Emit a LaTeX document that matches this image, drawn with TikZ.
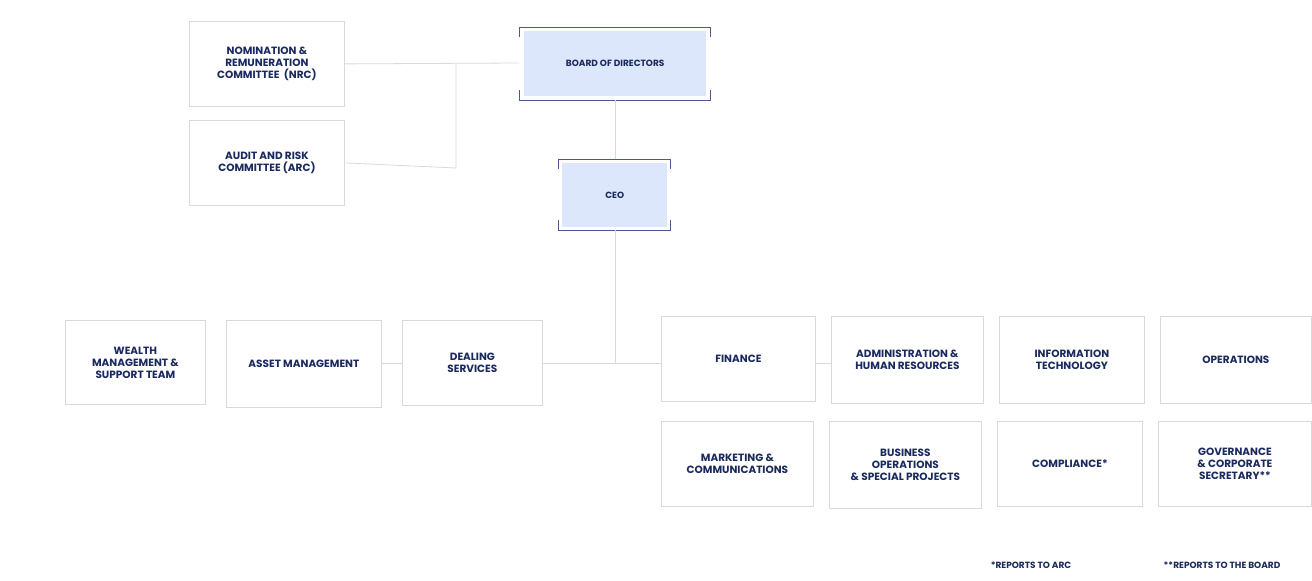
\documentclass[tikz,border=0pt]{standalone}
\usepackage{fontspec}
\setmainfont{Poppins}
\definecolor{navy}{HTML}{1B2A5E}
\definecolor{edge}{HTML}{D9D9D9}
\definecolor{fillb}{HTML}{DDE7FB}
\definecolor{brk}{HTML}{4A5A8A}
\begin{document}
\begin{tikzpicture}[x=1pt,y=-1pt,
  box/.style={draw=edge,line width=0.8pt,fill=white,text=navy,font=\fontsize{10.5}{12}\selectfont\bfseries,align=center,anchor=north west,inner sep=0pt},
  lead/.style={draw=edge,line width=0.8pt},
  brack/.style={draw=brk,line width=0.8pt},
  topbox/.style={fill=fillb,text=navy,font=\fontsize{9}{11}\selectfont\bfseries,align=center,anchor=north west,inner sep=0pt}]
\useasboundingbox (0,0) rectangle (1312,581);
\newcommand{\bx}[6]{\node[box,minimum width=#4-#2,minimum height=#5-#3] (#1) at (#2,#3) {#6};}
\bx{nrc}{189}{21}{344}{106}{NOMINATION \&\\REMUNERATION\\COMMITTEE\ \ (NRC)}
\bx{arc}{189}{120}{344}{205}{AUDIT AND RISK\\COMMITTEE (ARC)}
\bx{wm}{65}{320}{205}{404}{WEALTH\\MANAGEMENT \&\\SUPPORT TEAM}
\bx{am}{226}{320}{381}{407}{ASSET MANAGEMENT}
\bx{ds}{402}{320}{542}{405}{DEALING\\SERVICES}
\bx{fin}{661}{316}{815}{401}{FINANCE}
\bx{adm}{831}{316}{983}{403}{ADMINISTRATION \&\\HUMAN RESOURCES}
\bx{it}{999}{316}{1144}{403}{INFORMATION\\TECHNOLOGY}
\bx{ops}{1160}{316}{1311}{403}{OPERATIONS}
\bx{mkt}{661}{421}{813}{506}{MARKETING \&\\COMMUNICATIONS}
\bx{bus}{829}{421}{981}{508}{BUSINESS\\OPERATIONS\\\& SPECIAL PROJECTS}
\bx{cmp}{997}{421}{1142}{506}{COMPLIANCE*}
\bx{gov}{1158}{421}{1311}{506}{GOVERNANCE\\\& CORPORATE\\SECRETARY**}
% board
\draw[brack] (519,37) -- (519,27) -- (710,27) -- (710,37);
\draw[brack] (519,90) -- (519,100) -- (710,100) -- (710,90);
\node[topbox,minimum width=182,minimum height=65] (bod) at (524,31) {BOARD OF DIRECTORS};
\draw[brack] (558,169) -- (558,159) -- (670,159) -- (670,169);
\draw[brack] (558,220) -- (558,230) -- (670,230) -- (670,220);
\node[topbox,minimum width=105,minimum height=64] (ceo) at (562,163) {CEO};
% connectors
\coordinate (j1) at (456,168);
\coordinate (j2) at (456,63);
\coordinate (hub) at (615,363);
\draw[lead] (nrc.east) -- (519,63);
\draw[lead] (arc.east) -- (j1) -- (j2);
\draw[lead] (615,100) -- (615,159);
\draw[lead] (615,230) -- (hub);
\draw[lead] (ds.east |- hub) -- (fin.west |- hub);
\draw[lead] (fin.east |- hub) -- (adm.west |- hub);
\draw[lead] (am.east |- hub) -- (ds.west |- hub);
\node[text=navy,font=\fontsize{9}{11}\selectfont\bfseries] (n1) at (1031,565) {*REPORTS TO ARC};
\node[text=navy,font=\fontsize{9}{11}\selectfont\bfseries] (n2) at (1222,565) {**REPORTS TO THE BOARD};
\end{tikzpicture}
\end{document}
